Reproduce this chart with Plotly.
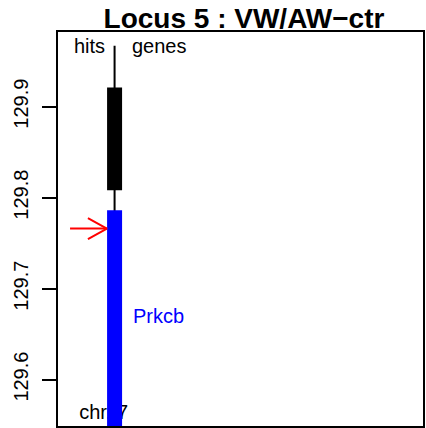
import plotly.graph_objects as go

# ---- data ----
title_text = "Locus 5 : VW/AW\u2212ctr"
y_ticks = [129.6, 129.7, 129.8, 129.9]
y_range = [129.549, 129.982]
x_range = [0, 10]

track_x = 1.55                      # position of the gene track
track_line = [129.967, 129.40]      # thin locus line (top, bottom)
hit_block = [129.808, 129.921]      # black hit block (start, end)
gene_names = ["Prkcb"]
gene_start = [129.45]
gene_end = [129.786]
gene_label_y = [129.67]
hit_arrow_y = 129.766
arrow_tail_x = 0.33
arrow_tip_x = 1.34
chrom_label = "chr. 7"
col_labels = ["hits", "genes"]

fig = go.Figure()

FONT = "Liberation Sans, Arial, sans-serif"

# chromosome label (beneath the bars)
fig.add_trace(go.Scatter(
    x=[1.25], y=[129.562], mode="text", text=[chrom_label],
    textfont=dict(family=FONT, size=20, color="black"),
    textposition="middle center", showlegend=False, hoverinfo="skip"))

# thin locus line
fig.add_trace(go.Scatter(
    x=[track_x, track_x], y=track_line, mode="lines",
    line=dict(color="black", width=2), showlegend=False, hoverinfo="skip"))

# hit block
fig.add_trace(go.Scatter(
    x=[track_x, track_x], y=hit_block, mode="lines",
    line=dict(color="black", width=15), showlegend=False, hoverinfo="skip"))

# gene blocks
for s, e in zip(gene_start, gene_end):
    fig.add_trace(go.Scatter(
        x=[track_x, track_x], y=[s, e], mode="lines",
        line=dict(color="#0000FF", width=15), showlegend=False, hoverinfo="skip"))

# red arrow
head_dx = 0.52
head_dy = 0.0115
fig.add_trace(go.Scatter(
    x=[arrow_tail_x, arrow_tip_x, None,
       arrow_tip_x - head_dx, arrow_tip_x, arrow_tip_x - head_dx],
    y=[hit_arrow_y, hit_arrow_y, None,
       hit_arrow_y + head_dy, hit_arrow_y, hit_arrow_y - head_dy],
    mode="lines", line=dict(color="#FF0000", width=2),
    showlegend=False, hoverinfo="skip"))

annotations = [
    dict(x=0.85, y=129.967, text=col_labels[0], xanchor="center"),
    dict(x=1.99, y=129.967, text=col_labels[1], xanchor="left"),
]
for name, ly in zip(gene_names, gene_label_y):
    annotations.append(dict(x=2.04, y=ly, text=name, xanchor="left",
                            font=dict(family=FONT, size=20, color="#0000FF")))
for a in annotations:
    a.update(xref="x", yref="y", showarrow=False, yanchor="middle",
             borderpad=0)
    a.setdefault("font", dict(family=FONT, size=20, color="black"))

fig.update_layout(
    width=426, height=428,
    margin=dict(l=58, r=1, t=32, b=2),
    paper_bgcolor="white", plot_bgcolor="white",
    title=dict(text=title_text, x=244 / 426, xanchor="center",
               y=1 - 18 / 428, yanchor="middle", yref="container",
               font=dict(family=FONT, size=28, color="black", weight="bold")),
    annotations=annotations,
    showlegend=False,
)
fig.update_xaxes(range=x_range, showgrid=False, zeroline=False,
                 showticklabels=False, ticks="", showline=True,
                 linecolor="black", linewidth=2, mirror=True)
fig.update_yaxes(range=y_range, showgrid=False, zeroline=False,
                 tickvals=y_ticks, ticktext=[f"{v:.1f}" for v in y_ticks],
                 ticks="outside", ticklen=14, tickwidth=2, tickcolor="black",
                 tickangle=-90, ticklabelstandoff=6,
                 tickfont=dict(family=FONT, size=20, color="black"),
                 showline=True, linecolor="black", linewidth=2, mirror=True)

fig.write_html("out.html",
               config={"displayModeBar": False},
               post_script="document.body.style.margin='0';"
                           "document.body.style.overflow='hidden';")
